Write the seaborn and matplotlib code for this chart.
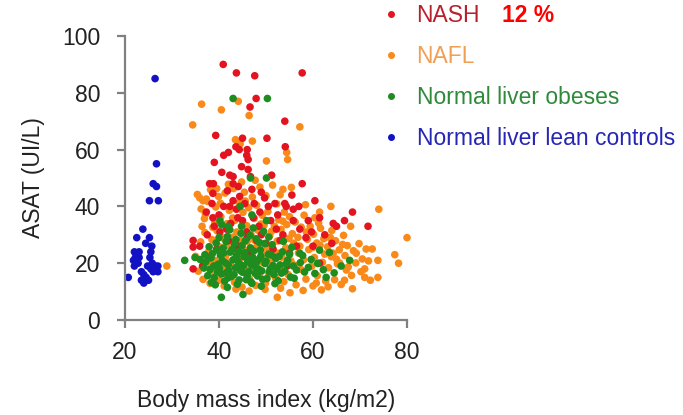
import pandas as pd
import matplotlib.pyplot as plt
from matplotlib.lines import Line2D
import seaborn as sns

# Data: (BMI kg/m2, ASAT UI/L)
groups = ["NASH", "NAFL", "Normal liver obeses", "Normal liver lean controls"]
point_colors = ["#e3141f", "#f98a1a", "#1f8c1f", "#1212c4"]
label_colors = ["#b8202e", "#f0a055", "#2f8a3a", "#2626b4"]

lean_points = [
    (26.4, 85), (26.7, 55), (26.0, 48), (26.7, 47), (25.2, 42), (27.1, 42),
    (23.8, 32), (22.5, 29), (25.2, 29), (24.4, 27), (25.7, 26), (22.0, 24),
    (22.5, 23), (22.2, 22), (23.0, 22), (22.5, 21), (21.8, 21), (22.8, 20),
    (25.3, 22), (25.8, 20), (22.0, 19), (23.5, 17), (24.0, 16), (20.7, 15),
    (24.5, 15), (25.0, 14), (23.5, 14), (24.0, 13), (26.0, 17), (26.5, 19),
    (26.0, 18), (27.0, 17), (27.0, 19), (25.5, 18), (24.8, 19), (23.0, 24),
    (25.5, 24),
]

nash_points = [
    (40.9, 90), (43.7, 87), (47.6, 86), (57.7, 87), (47.9, 78), (46.6, 75),
    (54.0, 70), (39.3, 65), (45.0, 64), (50.2, 64), (54.1, 61), (43.6, 61),
    (44.3, 60), (46.0, 60), (45.9, 58), (46.2, 56.5), (42.0, 59), (41.0, 58),
    (39.0, 55.5), (46.2, 53), (51.2, 51), (40.6, 52), (42.3, 51), (57.7, 48),
    (38.0, 48), (38.8, 48), (43.0, 48), (44.1, 47), (41.8, 45.5), (49.7, 43),
    (60.4, 42), (54.0, 41), (51.9, 41), (54.3, 40), (55.8, 39), (68.4, 38),
    (71.7, 33), (66.7, 35), (64.3, 34), (65.0, 33), (61.4, 36), (59.7, 31),
    (55.8, 35), (57.2, 32), (52.2, 32), (53.6, 30), (37.3, 38), (38.7, 36),
    (42.3, 40), (43.7, 39), (47.3, 36), (48.7, 38), (34.5, 28), (35.9, 26),
    (45.9, 31), (48.0, 28), (40.2, 31), (41.6, 32), (51.5, 25), (55.0, 23.5),
    (43.0, 42), (44.4, 43.5), (38.7, 44.6), (46.7, 50.5), (43.0, 50.5),
    (44.8, 54), (61.4, 20), (47.0, 46), (49.0, 45), (50.5, 40), (52.5, 37),
    (45.0, 35), (40.0, 37), (39.0, 33), (42.0, 28), (44.0, 26), (46.5, 24),
    (49.0, 30), (50.0, 27), (53.0, 28), (56.5, 26), (58.5, 29), (60.0, 26),
    (38.0, 22), (36.5, 19), (34.5, 18), (41.0, 40), (44.0, 36), (48.5, 33),
    (55.5, 44), (57.0, 40), (59.0, 35), (62.5, 30), (64.0, 27), (37.5, 30),
    (39.5, 25), (52.0, 22), (54.5, 19), (45.5, 41), (47.5, 41), (42.5, 34),
    (38.5, 41), (51.0, 35), (46.0, 29), (34.5, 25.7),
]

nafl_points = [
    (34.4, 68.7), (36.3, 76), (40.5, 74), (44.1, 77), (46.4, 72), (57.2, 68),
    (47.1, 63), (50.1, 56), (54.4, 59), (54.6, 56.5), (35.9, 43), (36.6, 42),
    (53.6, 46), (61.4, 38), (63.8, 40), (74.0, 39), (80.0, 29), (68.0, 33),
    (71.3, 25), (73.8, 21), (77.4, 23), (78.2, 20), (71.0, 18), (71.0, 15),
    (72.2, 14), (73.8, 15), (68.4, 11), (66.7, 14), (69.2, 23.5), (63.6, 29),
    (64.3, 23.5), (65.7, 20), (67.1, 17.6), (63.2, 11.7), (61.8, 10.6),
    (60.7, 13), (28.9, 19), (52.4, 8), (44.5, 62), (43.5, 63.5),
    (35.4, 44.2), (36.2, 39.1), (36.9, 35.7), (37.5, 41.8), (38.2, 45.9),
    (38.7, 32.6), (39.3, 39.8), (39.9, 43.5), (40.4, 36.4), (40.8, 28.9),
    (41.3, 44.7), (41.7, 33.9), (42.2, 38.6), (42.7, 27.4), (43.1, 46.3),
    (43.4, 35.1), (43.8, 31.0), (44.3, 41.2), (44.6, 28.0), (45.1, 37.9),
    (45.4, 45.0), (45.9, 33.2), (46.3, 39.5), (46.8, 30.1), (47.1, 43.3),
    (47.5, 35.8), (48.0, 40.4), (48.3, 31.6), (48.7, 46.8), (49.2, 36.9),
    (49.6, 33.4), (50.0, 43.8), (50.4, 38.2), (50.8, 29.7), (51.4, 47.5),
    (51.8, 33.0), (52.3, 40.9), (52.7, 35.3), (53.2, 31.9), (53.9, 38.0),
    (54.4, 33.6), (55.0, 36.4), (55.6, 30.4), (56.2, 34.5), (56.8, 29.1),
    (57.5, 32.7), (58.1, 36.9), (58.8, 28.4), (59.4, 33.0), (60.1, 30.2),
    (60.8, 27.1), (61.6, 32.3), (62.3, 28.6), (63.1, 25.8), (64.0, 31.5),
    (64.8, 27.9), (65.6, 24.7), (66.5, 29.8), (67.3, 26.2), (68.6, 24.4),
    (69.8, 26.9), (70.5, 21.5), (72.6, 25.0),
    (35.0, 22.4), (35.6, 17.2), (36.1, 27.5), (36.6, 14.3), (37.0, 30.8),
    (37.4, 19.4), (37.8, 24.1), (38.1, 12.9), (38.5, 28.3), (38.9, 16.6),
    (39.2, 21.0), (39.6, 31.4), (40.0, 14.0), (40.2, 25.7), (40.6, 19.1),
    (41.1, 12.0), (41.4, 22.4), (41.9, 26.3), (42.2, 15.8), (42.5, 20.4),
    (43.0, 29.2), (43.3, 13.3), (43.7, 24.5), (44.0, 17.9), (44.5, 21.6),
    (44.9, 11.6), (45.2, 25.0), (45.7, 18.3), (46.0, 27.6), (46.5, 14.5),
    (46.9, 23.3), (47.3, 19.8), (47.8, 12.2), (48.1, 26.0), (48.6, 16.1),
    (49.0, 23.8), (49.4, 20.2), (49.9, 13.0), (50.3, 25.3), (50.6, 16.3),
    (51.0, 20.6), (51.6, 24.1), (52.0, 14.9), (52.4, 27.8), (52.9, 18.6),
    (53.4, 22.1), (53.8, 13.5), (54.2, 25.4), (54.7, 16.0), (55.3, 20.8),
    (55.9, 27.0), (56.4, 12.4), (56.9, 23.6), (57.4, 17.8), (58.0, 21.2),
    (58.5, 14.4), (59.1, 24.8), (59.7, 18.9), (60.3, 22.0), (60.9, 15.6),
    (61.5, 26.3), (62.0, 20.3), (62.7, 13.7), (63.3, 18.4), (63.9, 22.3),
    (64.6, 14.2), (65.2, 19.8), (66.0, 12.5), (66.8, 22.7), (67.5, 18.7),
    (68.2, 15.7), (69.1, 20.1), (70.2, 17.0), (71.8, 20.8),
    (37.1, 37.2), (38.0, 20.3), (39.1, 34.5), (40.3, 41.1), (41.6, 18.0),
    (42.9, 35.9), (44.1, 23.0), (45.6, 41.9), (46.2, 17.2), (47.6, 28.1),
    (48.9, 33.8), (50.1, 21.9), (51.2, 31.3), (52.5, 23.5), (53.6, 34.8),
    (54.9, 28.7), (56.1, 19.3), (57.2, 26.0), (58.6, 31.0), (59.9, 25.5),
    (61.2, 34.1), (62.5, 23.2), (63.7, 29.0), (65.0, 21.4), (66.3, 26.6),
    (36.4, 33.0), (39.5, 46.3), (42.0, 47.8), (44.8, 48.6), (47.7, 49.2),
    (53.0, 44.1), (55.4, 46.7), (58.4, 40.6), (60.4, 36.0), (37.3, 42.6),
    (40.9, 16.4), (43.6, 10.9), (46.4, 10.2), (49.8, 10.8), (53.1, 11.2),
    (57.9, 10.4), (60.0, 12.0), (55.1, 9.6),
]

obese_points = [
    (43.0, 78), (50.3, 78), (50.1, 50), (46.7, 50), (40.5, 8), (45.1, 9),
    (41.8, 11.5), (32.7, 21), (34.9, 22), (50.1, 35), (40.2, 35), (67.8, 21),
    (66.0, 19), (62.8, 15), (60.4, 16.4), (57.2, 23.5), (61.4, 24.6),
    (44.5, 40), (47.0, 37), (42.0, 33),
    (37.2, 20.5), (38.1, 17.8), (38.6, 23.4), (39.0, 14.9), (39.4, 27.1),
    (39.8, 19.6), (40.3, 22.8), (40.5, 16.2), (40.9, 25.3), (41.2, 13.7),
    (41.4, 20.1), (41.8, 29.4), (42.1, 17.5), (42.4, 23.9), (42.6, 15.3),
    (43.0, 21.2), (43.3, 26.8), (43.5, 18.4), (43.9, 12.6), (44.2, 24.1),
    (44.4, 19.7), (44.7, 30.5), (45.0, 16.8), (45.3, 22.3), (45.6, 27.9),
    (45.8, 14.2), (46.1, 20.6), (46.4, 17.1), (46.7, 25.4), (47.0, 12.9),
    (47.2, 22.0), (47.6, 18.8), (47.9, 28.6), (48.2, 15.5), (48.5, 21.4),
    (48.8, 24.7), (49.1, 17.3), (49.5, 31.2), (49.8, 19.9), (50.2, 14.6),
    (50.5, 23.2), (50.9, 18.1), (51.3, 26.5), (51.7, 16.0), (52.1, 21.7),
    (52.6, 13.8), (53.0, 19.4), (53.5, 24.0), (54.0, 17.2), (54.6, 21.0),
    (55.2, 15.1), (55.8, 19.0), (56.5, 17.6), (57.3, 20.2), (58.2, 16.9),
    (59.0, 18.5),
    (38.3, 21.9), (38.9, 19.0), (39.6, 24.6), (40.1, 18.2), (40.7, 20.9),
    (41.0, 23.6), (41.6, 16.7), (42.0, 19.3), (42.8, 24.8), (43.2, 16.0),
    (43.7, 22.6), (44.0, 20.8), (44.6, 17.4), (44.9, 26.2), (45.2, 19.1),
    (45.5, 23.7), (46.0, 15.4), (46.3, 21.8), (46.9, 19.5), (47.4, 24.3),
    (47.7, 16.4), (48.0, 20.3), (48.4, 18.0), (48.9, 22.5), (49.3, 14.3),
    (49.7, 26.9), (50.0, 20.7), (50.7, 17.0), (51.1, 22.9), (51.5, 19.2),
    (52.3, 17.9), (52.8, 22.4), (53.3, 16.5), (54.3, 19.8), (55.0, 23.1),
    (56.0, 14.7), (36.8, 18.3), (37.6, 15.6), (37.9, 25.8), (39.2, 12.4),
    (40.0, 29.0), (41.5, 27.6), (42.3, 31.8), (43.6, 28.3), (46.6, 29.8),
    (48.6, 27.3), (39.7, 16.9), (41.9, 14.8), (44.3, 14.1), (46.8, 13.4),
    (49.0, 11.9), (51.9, 12.8), (38.4, 13.2), (36.0, 21.3), (37.0, 23.0),
    (40.6, 33.5), (44.8, 33.0), (47.3, 32.4), (50.6, 29.2), (53.7, 27.7),
    (55.5, 25.6), (57.8, 22.7), (59.6, 21.3), (61.0, 19.9), (62.2, 17.7),
    (64.5, 16.6), (63.5, 23.8),
]

# build table, draw order: NAFL, NASH, obese, lean
frames = []
for name, pts in [("NAFL", nafl_points), ("NASH", nash_points),
                  ("Normal liver obeses", obese_points),
                  ("Normal liver lean controls", lean_points)]:
    d = pd.DataFrame(pts, columns=["bmi", "asat"])
    d["group"] = name
    frames.append(d)
df = pd.concat(frames, ignore_index=True)

sns.set_style("white")
plt.rcParams["font.family"] = ["Liberation Sans", "DejaVu Sans"]

fig = plt.figure(figsize=(6.83, 4.15), dpi=100)
ax = fig.add_axes([125 / 683, 1 - 320 / 415, 282 / 683, 284 / 415])

sns.scatterplot(data=df, x="bmi", y="asat", hue="group",
                palette=dict(zip(groups, point_colors)), s=30, linewidth=0,
                legend=False, ax=ax, clip_on=False)

ax.set_xlim(20, 80)
ax.set_ylim(0, 100)
ax.set_xticks([20, 40, 60, 80])
ax.set_yticks([0, 20, 40, 60, 80, 100])
ax.set_xlabel("Body mass index (kg/m2)", fontsize=16.5, color="#222222", labelpad=18)
ax.set_ylabel("ASAT (UI/L)", fontsize=16.5, color="#222222", labelpad=12)

for side in ["top", "right"]:
    ax.spines[side].set_visible(False)
for side in ["left", "bottom"]:
    ax.spines[side].set_color("#808080")
    ax.spines[side].set_linewidth(1.6)
ax.tick_params(axis="both", labelsize=16.5, labelcolor="#222222", color="#808080",
               length=6, width=1.6, direction="out")
ax.tick_params(axis="x", pad=9, bottom=True)
ax.tick_params(axis="y", pad=12, left=True)

handles = [Line2D([], [], marker="o", linestyle="", color=c, markersize=4)
           for c in point_colors]
ax.legend(handles, groups, loc="upper left", bbox_to_anchor=(384 / 683, 1 - 4 / 415),
          bbox_transform=fig.transFigure, frameon=False, fontsize=16.5,
          labelcolor=label_colors, handlelength=0.6, handletextpad=0.82,
          labelspacing=0.78, borderpad=0, borderaxespad=0)

fig.text(502 / 683, 1 - 15 / 415, "12 %", color="#ff0000", fontsize=16.5,
         fontweight="bold", va="center", ha="left")

fig.savefig("out.png", dpi=100)
plt.close()
